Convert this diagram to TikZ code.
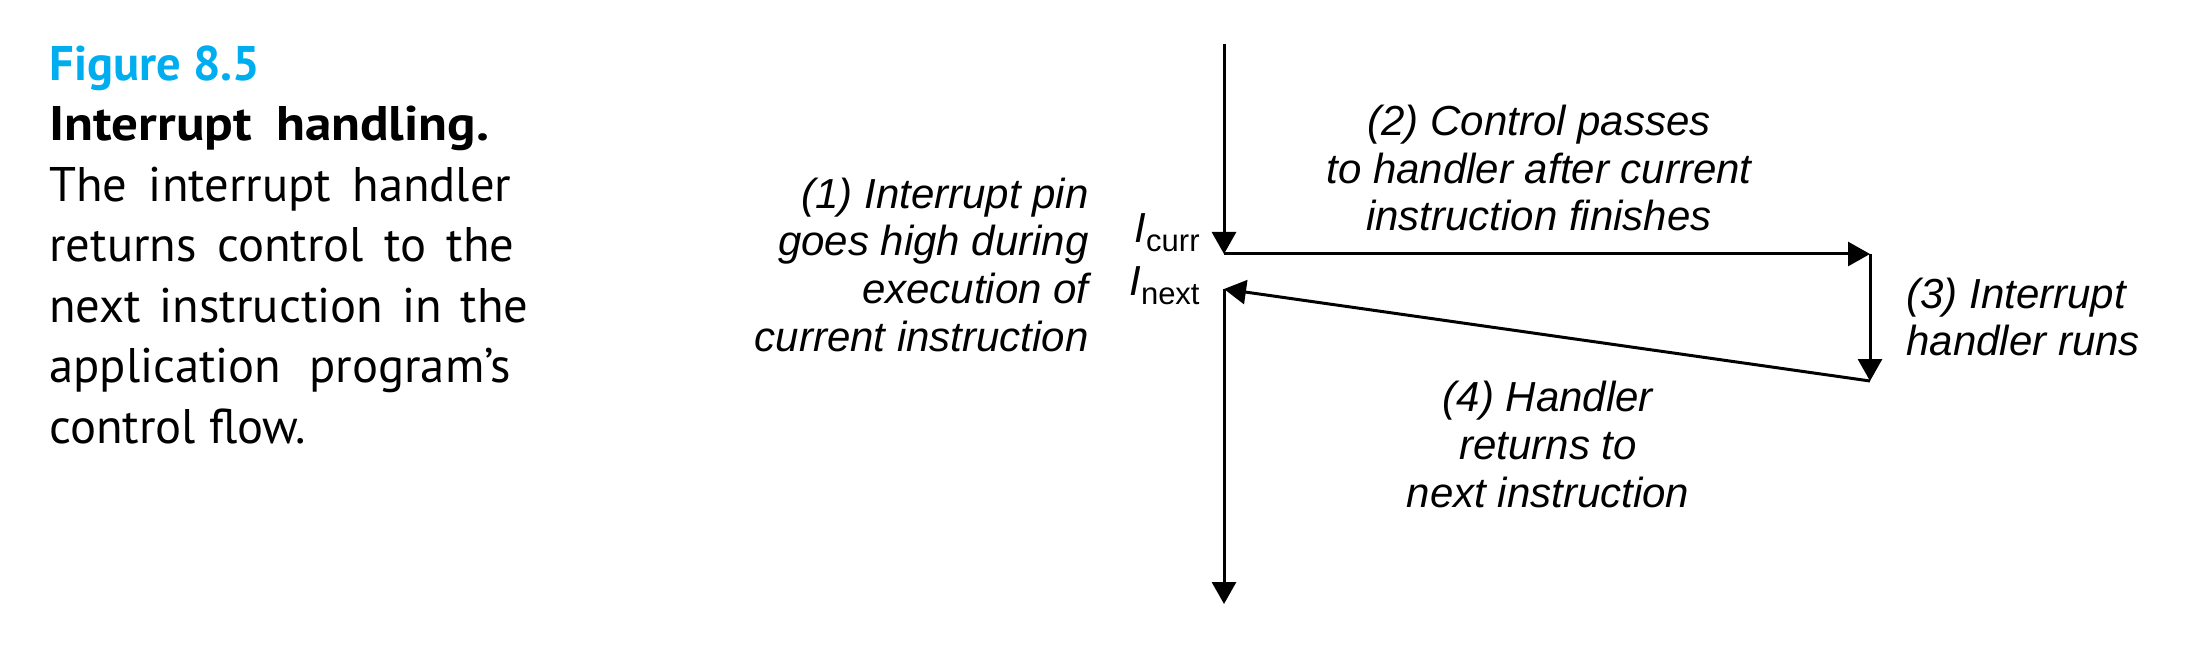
\documentclass[tikz,border=0pt]{standalone}
\usepackage{graphicx}
\usepackage{fontspec}
\setmainfont{PT Sans}
\newfontfamily\helv{Liberation Sans}
\usetikzlibrary{arrows.meta,positioning}
\definecolor{figcyan}{RGB}{0,174,239}
\newcommand{\capline}[2]{\makebox[#1][s]{#2}}

\begin{document}
\begin{tikzpicture}[
  x=0.5pt, y=-0.5pt,
  flow/.style = {draw, line width=1.5pt, -{Triangle[length=11pt,width=12pt]}},
  note/.style = {inner sep=0pt, font=\helv\itshape\fontsize{21}{23.8}\selectfont},
  instr/.style = {inner sep=0pt, anchor=base east, font=\helv\fontsize{21}{21}\selectfont},
  caption/.style = {inner sep=0pt, anchor=base west, align=left,
    font=\fontsize{24.3}{30.25}\selectfont}
]

\useasboundingbox (0,0) rectangle (2206,668);

% caption (base = last line)
\node[caption] (cap) at (49,443) {{\color{figcyan}\bfseries Figure 8.5}\\
  \scalebox{1.093}[1]{\capline{201.3pt}{\bfseries Interrupt handling.}}\\
  \capline{231pt}{The interrupt handler}\\
  \capline{232.5pt}{returns control to the}\\
  \capline{239.5pt}{next instruction in the}\\
  \capline{231pt}{application program’s}\\
  control flow.};

% points of the control flow
\coordinate (top) at (1224,44);
\coordinate (curr) at (1224,254);
\coordinate (hin) at (1870,254);
\coordinate (hout) at (1870,381);
\coordinate (next) at (1224,289);
\coordinate (bottom) at (1224,604);

\draw[flow] (top) -- (curr);
\draw[flow] (curr) -- (hin);
\draw[flow] (hin) -- (hout);
\draw[flow] (hout) -- (next);
\draw[flow] (next) -- (bottom);

\node[instr] (icurr) at (1200,243) {\textit{I}\raisebox{-4.2pt}{\fontsize{15.5}{15.5}\selectfont curr}};
\node[instr] (inext) at (1200,296) {\textit{I}\raisebox{-4.2pt}{\fontsize{15.5}{15.5}\selectfont next}};

% the four steps
\node[note, align=right, anchor=base east] (step1) at (1089,351)
  {(1) Interrupt pin\\goes high during\\execution of\\current instruction};
\node[note, align=center, anchor=base] (step2) at (1539,231)
  {(2) Control passes\\to handler after current\\instruction finishes};
\node[note, align=left, anchor=base west] (step3) at (1906,356)
  {(3) Interrupt\\handler runs};
\node[note, align=center, anchor=base] (step4) at (1548,507)
  {(4) Handler\\returns to\\next instruction};

\end{tikzpicture}
\end{document}
